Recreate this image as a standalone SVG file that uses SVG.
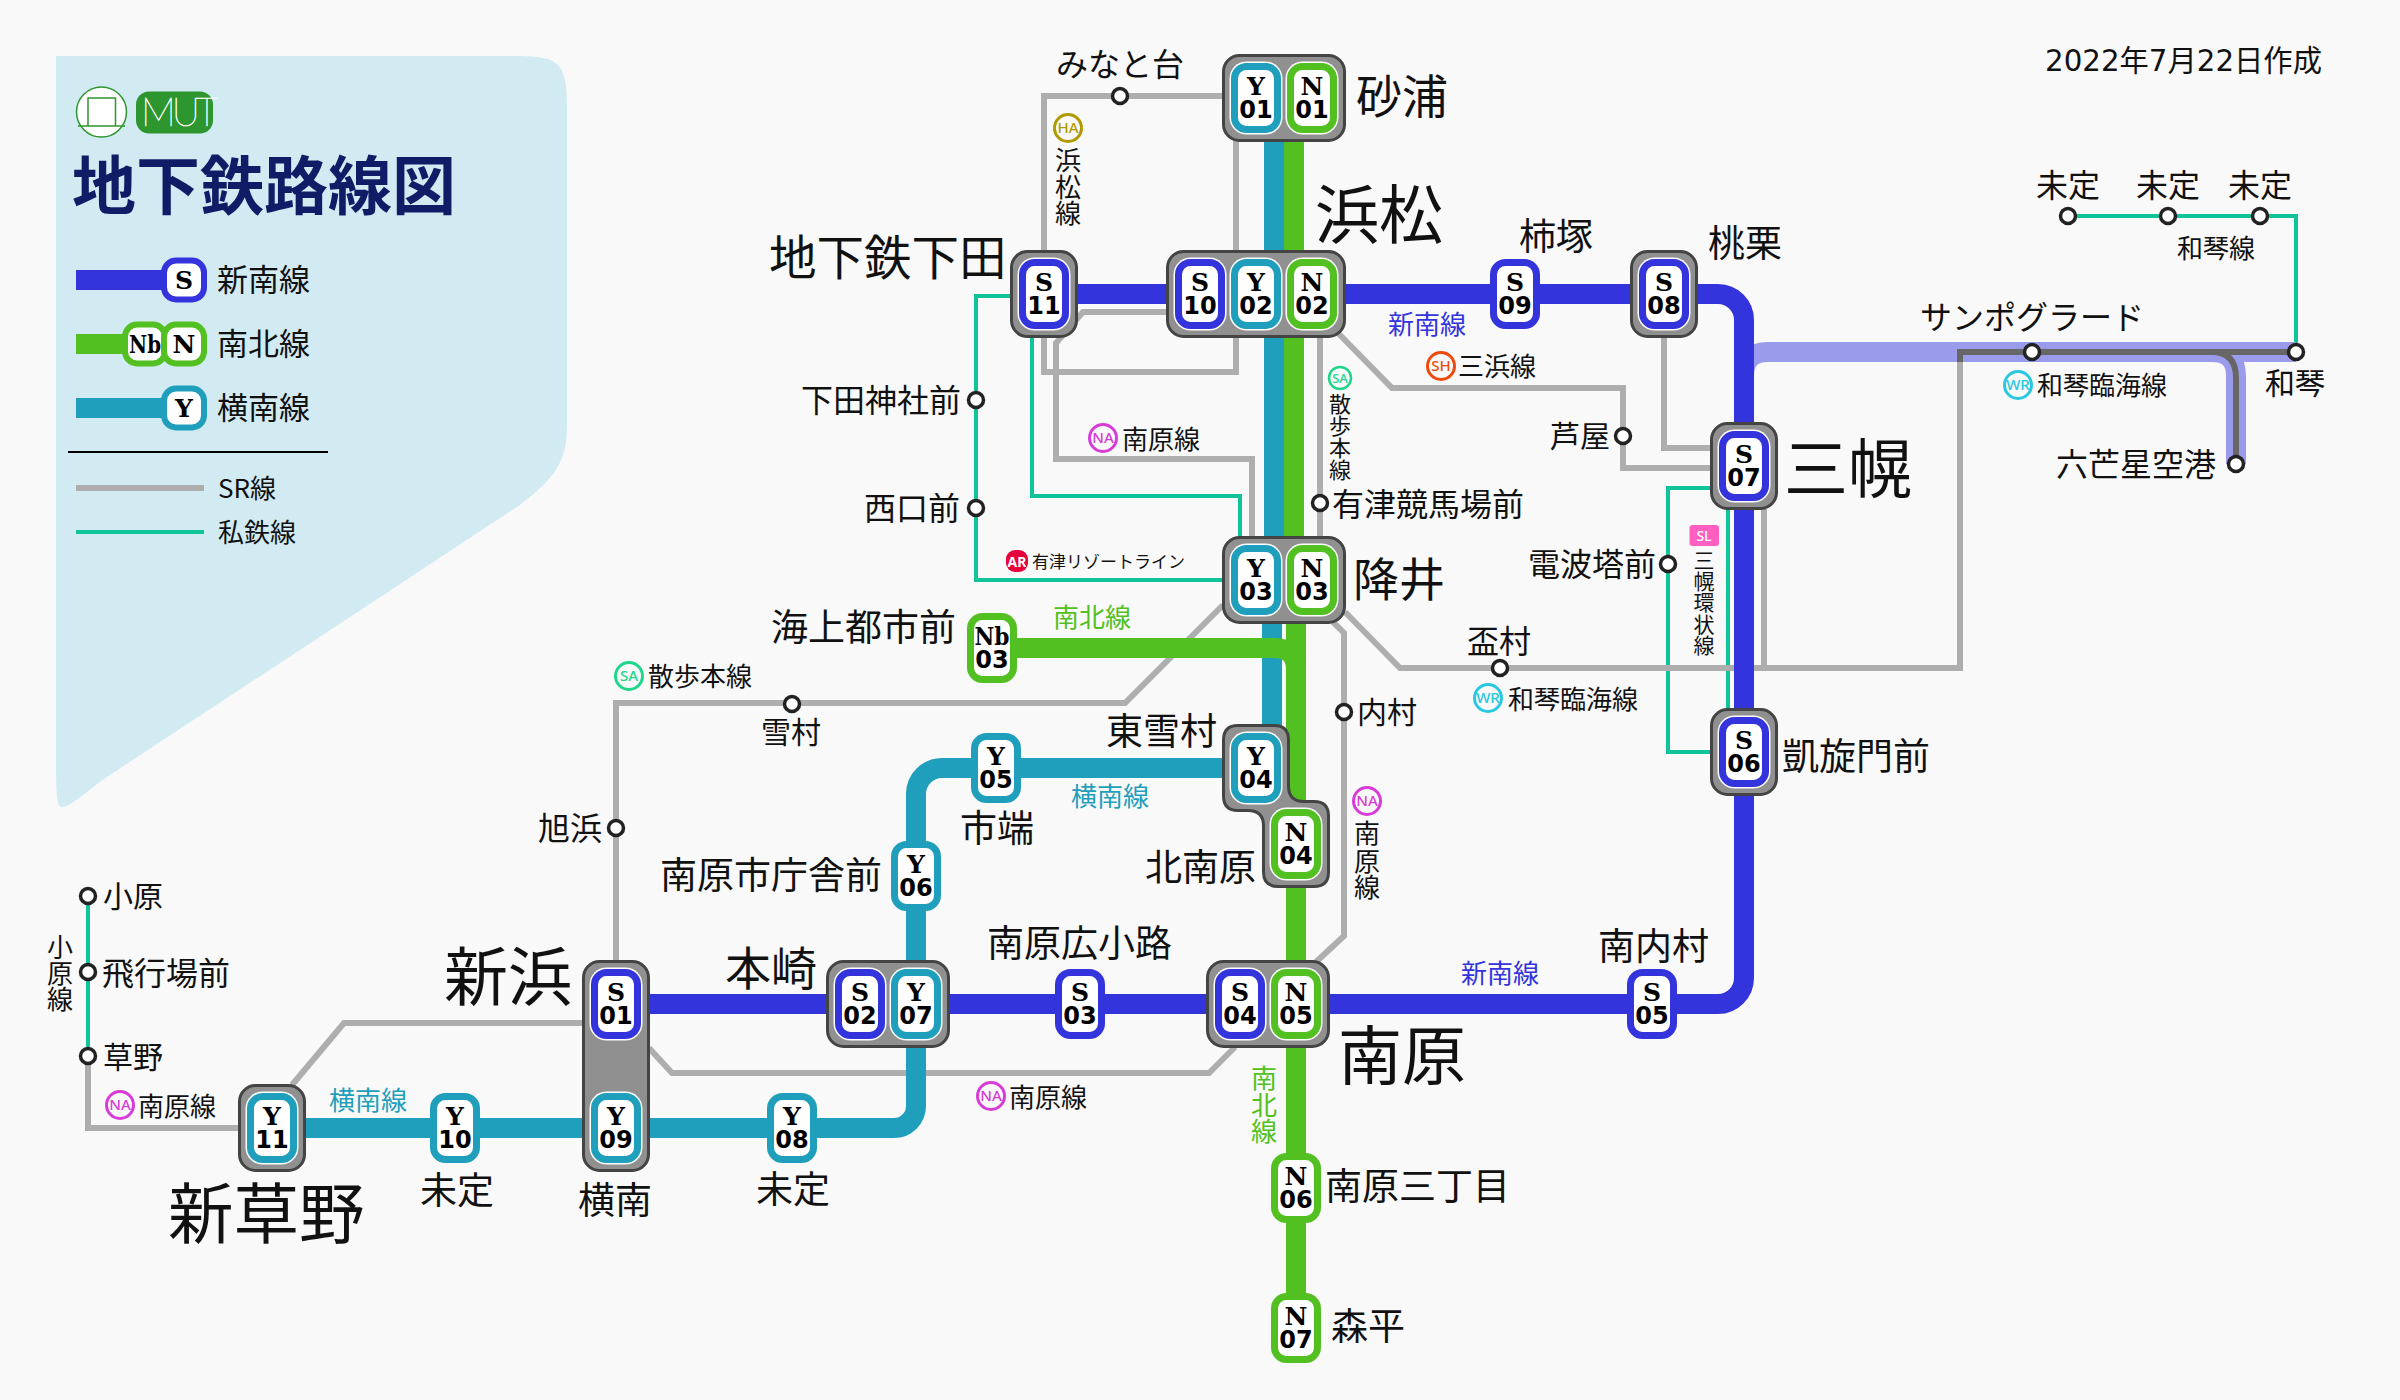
<svg xmlns="http://www.w3.org/2000/svg" width="2400" height="1400" viewBox="0 0 2400 1400">
<style>
text{font-family:"Noto Sans CJK JP","Noto Sans",sans-serif;fill:#111}
.gr{fill:none;stroke:#aeaeae;stroke-width:6;stroke-linejoin:miter}
.pv{fill:none;stroke:#10c49a;stroke-width:4}
.ls{fill:none;stroke:#3434dc;stroke-width:20}
.ln{fill:none;stroke:#52c020;stroke-width:20}
.ly{fill:none;stroke:#1f9fbb;stroke-width:20}
.lp{fill:none;stroke:#9b9bec;stroke-width:20}
.dk{fill:none;stroke:#666;stroke-width:6}
.box{fill:#909090;stroke:#444;stroke-width:3}
.l{font-family:"DejaVu Serif",serif;font-weight:700;font-size:25px;text-anchor:middle;fill:#000}
.d{font-family:"DejaVu Sans",sans-serif;font-weight:700;font-size:24px;text-anchor:middle;fill:#000}
.st{fill:#fff;stroke:#222;stroke-width:3.5}
.t26{font-size:26px}.t30{font-size:30px}.t31{font-size:31px}.t32{font-size:32px}.t36{font-size:37px}.t45{font-size:46px}.t63{font-size:64px}
.mid{text-anchor:middle}
.cs{fill:#3434dc}.cn{fill:#52c020}.cy{fill:#1f9fbb}
.mk{font-family:"Noto Sans",sans-serif;font-weight:500;font-size:15px;text-anchor:middle}
.rg{fill:none;stroke-width:3}
</style>
<defs>
<rect id="halo" x="-26.500" y="-36.500" width="53" height="73" rx="17" fill="#fff"/>
<rect id="bS" x="-21.500" y="-31.500" width="43" height="63" rx="12" fill="#fff" stroke="#3434dc" stroke-width="7"/>
<rect id="bY" x="-21.500" y="-31.500" width="43" height="63" rx="12" fill="#fff" stroke="#1f9fbb" stroke-width="7"/>
<rect id="bN" x="-21.500" y="-31.500" width="43" height="63" rx="12" fill="#fff" stroke="#52c020" stroke-width="7"/>
<rect id="mS" x="-20" y="-19.500" width="40" height="39" rx="12" fill="#fff" stroke="#3434dc" stroke-width="6"/>
<rect id="mN" x="-20" y="-19.500" width="40" height="39" rx="12" fill="#fff" stroke="#52c020" stroke-width="6"/>
<rect id="mY" x="-20" y="-19.500" width="40" height="39" rx="12" fill="#fff" stroke="#1f9fbb" stroke-width="6"/>
</defs>
<rect width="2400" height="1400" fill="#f9f9f9"/>

<g id="legend">
<path d="M56 56H510C555 56 567 58 567 105V425C567 462 555 478 520 505L107 777C85 792 70 808 61 807C56 806 56 780 56 760Z" fill="#d2ebf3"/>
<g id="logo">
<circle cx="101.500" cy="112" r="25" fill="#fff" stroke="#2e962e" stroke-width="1.500"/>
<path d="M78 126H125M88 126V98H115.500V126" fill="none" stroke="#2e962e" stroke-width="1.500"/>
<rect x="136" y="91.500" width="77" height="42" rx="13" fill="#2e962e"/>
<text x="141" y="126" style="font-family:Lato,sans-serif;font-weight:100;font-size:39px;fill:#fff;stroke:#fff;stroke-width:.6px;letter-spacing:-4px">MUT</text>
</g>
<text x="72" y="209" style="font-size:64px;font-weight:700;fill:#0f1c66">地下鉄路線図</text>
<path class="ls" d="M76 280H184"/>
<g transform="translate(184,280)"><use href="#mS"/><text class="l" y="9">S</text></g>
<text class="t31" x="217" y="291">新南線</text>
<path class="ln" d="M76 344H184"/>
<g transform="translate(145,344)"><use href="#mN"/><text class="l" y="9" textLength="32" lengthAdjust="spacingAndGlyphs">Nb</text></g>
<g transform="translate(184,344)"><use href="#mN"/><text class="l" y="9">N</text></g>
<text class="t31" x="217" y="355">南北線</text>
<path class="ly" d="M76 408H184"/>
<g transform="translate(184,408)"><use href="#mY"/><text class="l" y="9">Y</text></g>
<text class="t31" x="217" y="419">横南線</text>
<path d="M68 452H328" stroke="#000" stroke-width="1.800"/>
<path d="M76 488H204" stroke="#aeaeae" stroke-width="6"/>
<text x="218" y="498" style="font-size:26px">SR線</text>
<path d="M76 532H204" stroke="#10c49a" stroke-width="4"/>
<text x="218" y="542" style="font-size:26px">私鉄線</text>
</g>

<g id="connectors">
<path class="pv" d="M1011 296H976V580H1223"/>
<path class="pv" d="M1032 337V496H1240V537"/>
<path class="pv" d="M1711 488H1668V752H1711"/>
<path class="pv" d="M1728 509V709"/>
<path class="pv" d="M88 896V1056"/>
<path class="pv" d="M2068 216H2296V352"/>
<path class="gr" d="M1223 96H1044V251M1044 337V372H1236V337M1236 251V140"/>
<path class="gr" d="M1166 312H1083L1056 343V459H1252V537"/>
<path class="gr" d="M1320 337V537"/>
<path class="gr" d="M1333 622L1344 633V936L1316 962"/>
<path class="gr" d="M1338 333L1392 388H1623V468H1711"/>
<path class="gr" d="M1664 337V448H1711"/>
<path class="gr" d="M1764 509V668"/>
<path class="gr" d="M1345 612L1400 668H1960V352"/>
<path class="gr" d="M1223 605L1125 703H616V961"/>
<path class="gr" d="M649 1048L672 1073H1209L1235 1047"/>
<path class="gr" d="M584 1023H344L292 1085"/>
<path class="gr" d="M88 1056V1128H239"/>
<path class="lp" d="M1744 376Q1744 352 1768 352H2296M2212 352Q2236 352 2236 376V464"/>
<path class="dk" d="M1960 362V352H2296M2212 352Q2236 352 2236 378V464"/>
<path class="ly" d="M1274 97V580M1272 580V768"/>
<path class="ly" d="M1256 768H942A26 26 0 0 0 916 794V1106A22 22 0 0 1 894 1128H272"/>
<path class="ln" d="M1294 97V580M1296 580V1328"/>
<path class="ln" d="M992 648H1274Q1296 648 1296 670"/>
<path class="ls" d="M616 1004H1718A26 26 0 0 0 1744 978V320A26 26 0 0 0 1718 294H1043"/>
</g>

<g id="small-stations">
<circle id="minatodai" class="st" cx="1120" cy="96" r="7.500"/>
<circle id="shimodajinja" class="st" cx="976" cy="400" r="7.500"/>
<circle id="nishiguchi" class="st" cx="976" cy="508" r="7.500"/>
<circle id="keiba" class="st" cx="1320" cy="503" r="7.500"/>
<circle id="ashiya" class="st" cx="1623" cy="436" r="7.500"/>
<circle id="denpa" class="st" cx="1668" cy="564" r="7.500"/>
<circle id="sakazuki" class="st" cx="1500" cy="668" r="7.500"/>
<circle id="uchimura" class="st" cx="1344" cy="712" r="7.500"/>
<circle id="yukimura" class="st" cx="792" cy="704" r="7.500"/>
<circle id="asahihama" class="st" cx="616" cy="828" r="7.500"/>
<circle id="ohara" class="st" cx="88" cy="896" r="7.500"/>
<circle id="hikojo" class="st" cx="88" cy="972" r="7.500"/>
<circle id="kusano" class="st" cx="88" cy="1056" r="7.500"/>
<circle id="w1" class="st" cx="2068" cy="216" r="7.500"/>
<circle id="w2" class="st" cx="2168" cy="216" r="7.500"/>
<circle id="w3" class="st" cx="2260" cy="216" r="7.500"/>
<circle id="sunpo" class="st" cx="2032" cy="352" r="7.500"/>
<circle id="wakoto" class="st" cx="2296" cy="352" r="7.500"/>
<circle id="rokubo" class="st" cx="2236" cy="464" r="7.500"/>
</g>

<g id="st-Y01-N01"><rect class="box" x="1223.500" y="55.500" width="121" height="85" rx="16"/>
<g transform="translate(1256,98)"><use href="#halo"/><use href="#bY"/><text class="l" y="-3">Y</text><text class="d" y="20">01</text></g>
<g transform="translate(1312,98)"><use href="#halo"/><use href="#bN"/><text class="l" y="-3">N</text><text class="d" y="20">01</text></g></g>
<g id="st-S10-Y02-N02"><rect class="box" x="1167.500" y="251.500" width="177" height="85" rx="16"/>
<g transform="translate(1200,294)"><use href="#halo"/><use href="#bS"/><text class="l" y="-3">S</text><text class="d" y="20">10</text></g>
<g transform="translate(1256,294)"><use href="#halo"/><use href="#bY"/><text class="l" y="-3">Y</text><text class="d" y="20">02</text></g>
<g transform="translate(1312,294)"><use href="#halo"/><use href="#bN"/><text class="l" y="-3">N</text><text class="d" y="20">02</text></g></g>
<g id="st-S11"><rect class="box" x="1011.500" y="251.500" width="65" height="85" rx="16"/>
<g transform="translate(1044,294)"><use href="#halo"/><use href="#bS"/><text class="l" y="-3">S</text><text class="d" y="20">11</text></g></g>
<g id="st-Y03-N03"><rect class="box" x="1223.500" y="537.500" width="121" height="85" rx="16"/>
<g transform="translate(1256,580)"><use href="#halo"/><use href="#bY"/><text class="l" y="-3">Y</text><text class="d" y="20">03</text></g>
<g transform="translate(1312,580)"><use href="#halo"/><use href="#bN"/><text class="l" y="-3">N</text><text class="d" y="20">03</text></g></g>
<g id="st-Y04-N04"><path class="box" d="M1238 725.500H1274Q1288.500 725.500 1288.500 740V786Q1288.500 801.500 1304 801.500H1314Q1328.500 801.500 1328.500 816V872Q1328.500 886.500 1314 886.500H1278Q1263.500 886.500 1263.500 872V826Q1263.500 810.500 1248 810.500H1238Q1223.500 810.500 1223.500 796V740Q1223.500 725.500 1238 725.500Z"/>
<g transform="translate(1256,768)"><use href="#halo"/><use href="#bY"/><text class="l" y="-3">Y</text><text class="d" y="20">04</text></g>
<g transform="translate(1296,844)"><use href="#halo"/><use href="#bN"/><text class="l" y="-3">N</text><text class="d" y="20">04</text></g></g>
<g id="st-S09" transform="translate(1515,294)"><use href="#bS"/><text class="l" y="-3">S</text><text class="d" y="20">09</text></g>
<g id="st-S08"><rect class="box" x="1631.500" y="251.500" width="65" height="85" rx="16"/>
<g transform="translate(1664,294)"><use href="#halo"/><use href="#bS"/><text class="l" y="-3">S</text><text class="d" y="20">08</text></g></g>
<g id="st-S07"><rect class="box" x="1711.500" y="423.500" width="65" height="85" rx="16"/>
<g transform="translate(1744,466)"><use href="#halo"/><use href="#bS"/><text class="l" y="-3">S</text><text class="d" y="20">07</text></g></g>
<g id="st-S06"><rect class="box" x="1711.500" y="709.500" width="65" height="85" rx="16"/>
<g transform="translate(1744,752)"><use href="#halo"/><use href="#bS"/><text class="l" y="-3">S</text><text class="d" y="20">06</text></g></g>
<g id="st-S05" transform="translate(1652,1004)"><use href="#bS"/><text class="l" y="-3">S</text><text class="d" y="20">05</text></g>
<g id="st-S04-N05"><rect class="box" x="1207.500" y="961.500" width="121" height="85" rx="16"/>
<g transform="translate(1240,1004)"><use href="#halo"/><use href="#bS"/><text class="l" y="-3">S</text><text class="d" y="20">04</text></g>
<g transform="translate(1296,1004)"><use href="#halo"/><use href="#bN"/><text class="l" y="-3">N</text><text class="d" y="20">05</text></g></g>
<g id="st-S03" transform="translate(1080,1004)"><use href="#bS"/><text class="l" y="-3">S</text><text class="d" y="20">03</text></g>
<g id="st-S02-Y07"><rect class="box" x="827.500" y="961.500" width="121" height="85" rx="16"/>
<g transform="translate(860,1004)"><use href="#halo"/><use href="#bS"/><text class="l" y="-3">S</text><text class="d" y="20">02</text></g>
<g transform="translate(916,1004)"><use href="#halo"/><use href="#bY"/><text class="l" y="-3">Y</text><text class="d" y="20">07</text></g></g>
<g id="st-S01-Y09"><rect class="box" x="583.500" y="961.500" width="65" height="209" rx="16"/>
<g transform="translate(616,1004)"><use href="#halo"/><use href="#bS"/><text class="l" y="-3">S</text><text class="d" y="20">01</text></g>
<g transform="translate(616,1128)"><use href="#halo"/><use href="#bY"/><text class="l" y="-3">Y</text><text class="d" y="20">09</text></g></g>
<g id="st-Y05" transform="translate(996,768)"><use href="#bY"/><text class="l" y="-3">Y</text><text class="d" y="20">05</text></g>
<g id="st-Y06" transform="translate(916,876)"><use href="#bY"/><text class="l" y="-3">Y</text><text class="d" y="20">06</text></g>
<g id="st-Y08" transform="translate(792,1128)"><use href="#bY"/><text class="l" y="-3">Y</text><text class="d" y="20">08</text></g>
<g id="st-Y10" transform="translate(455,1128)"><use href="#bY"/><text class="l" y="-3">Y</text><text class="d" y="20">10</text></g>
<g id="st-Y11"><rect class="box" x="239.500" y="1085.500" width="65" height="85" rx="16"/>
<g transform="translate(272,1128)"><use href="#halo"/><use href="#bY"/><text class="l" y="-3">Y</text><text class="d" y="20">11</text></g></g>
<g id="st-N06" transform="translate(1296,1188)"><use href="#bN"/><text class="l" y="-3">N</text><text class="d" y="20">06</text></g>
<g id="st-N07" transform="translate(1296,1328)"><use href="#bN"/><text class="l" y="-3">N</text><text class="d" y="20">07</text></g>
<g id="st-Nb03" transform="translate(992,648)"><use href="#bN"/><text class="l" y="-3" textLength="35" lengthAdjust="spacingAndGlyphs">Nb</text><text class="d" y="20">03</text></g>

<g id="labels">
<text x="2045" y="71" style="font-family:'DejaVu Sans','Noto Sans CJK JP',sans-serif;font-size:29.300px">2022年7月22日作成</text>
<text class="t32" x="1056" y="76">みなと台</text>
<text class="t45" x="1356" y="113">砂浦</text>
<text class="t63" x="1315" y="238">浜松</text>
<text x="769" y="275" style="font-size:47.500px">地下鉄下田</text>
<text class="t36" x="1519" y="250">柿塚</text>
<text class="t36" x="1708" y="257">桃栗</text>
<text class="t26 cs" x="1388" y="334">新南線</text>
<text class="t26" x="1458" y="376">三浜線</text>
<text class="t26 mid" x="1068"><tspan x="1068" y="170">浜</tspan><tspan x="1068" y="197">松</tspan><tspan x="1068" y="223">線</tspan></text>
<text class="mid" x="1340" style="font-size:22px"><tspan x="1340" y="412">散</tspan><tspan x="1340" y="434">歩</tspan><tspan x="1340" y="456">本</tspan><tspan x="1340" y="478">線</tspan></text>
<text class="t26" x="1122" y="449">南原線</text>
<text class="t32" x="1332" y="516">有津競馬場前</text>
<text class="t32" x="801" y="412">下田神社前</text>
<text class="t32" x="864" y="520">西口前</text>
<text x="1032" y="568" style="font-size:17px">有津リゾートライン</text>
<text class="t45" x="1353" y="596">降井</text>
<text class="t26 cn" x="1053" y="627">南北線</text>
<text class="t36" x="1106" y="745">東雪村</text>
<text class="t26 cy" x="1071" y="806">横南線</text>
<text class="t30" x="1357" y="723">内村</text>
<text class="t36" x="1145" y="881">北南原</text>
<text class="t26 mid" x="1367"><tspan x="1367" y="843">南</tspan><tspan x="1367" y="871">原</tspan><tspan x="1367" y="897">線</tspan></text>
<text class="t32" x="1467" y="653">盃村</text>
<text class="t26" x="1508" y="709">和琴臨海線</text>
<text class="t26" x="2037" y="395">和琴臨海線</text>
<text class="t32" x="1920" y="329">サンポグラード</text>
<text class="t26" x="2177" y="258">和琴線</text>
<text class="t32 mid" x="2068" y="197">未定</text>
<text class="t32 mid" x="2168" y="197">未定</text>
<text class="t32 mid" x="2260" y="197">未定</text>
<text class="t30" x="2265" y="394">和琴</text>
<text class="t32" x="2056" y="476">六芒星空港</text>
<text class="t63" x="1784" y="492">三幌</text>
<text class="t30" x="1550" y="447">芦屋</text>
<text class="t32" x="1528" y="576">電波塔前</text>
<text class="mid" style="font-size:21px"><tspan x="1704" y="568">三</tspan><tspan x="1704" y="589">幌</tspan><tspan x="1704" y="610">環</tspan><tspan x="1704" y="632">状</tspan><tspan x="1704" y="653">線</tspan></text>
<text class="t36" x="1782" y="770">凱旋門前</text>
<text class="t36" x="771" y="641">海上都市前</text>
<text class="t26" x="648" y="686">散歩本線</text>
<text class="t30" x="761" y="743">雪村</text>
<text class="t32" x="538" y="840">旭浜</text>
<text class="t36" x="960" y="842">市端</text>
<text class="t36" x="660" y="889">南原市庁舎前</text>
<text class="t45" x="725" y="985">本崎</text>
<text class="t36" x="987" y="957">南原広小路</text>
<text class="t63" x="444" y="1000">新浜</text>
<text class="t26 cs" x="1461" y="983">新南線</text>
<text class="t36" x="1598" y="960">南内村</text>
<text class="t63" x="1338" y="1079">南原</text>
<text class="t26" x="1009" y="1107">南原線</text>
<text class="t26 mid cn" x="1264"><tspan x="1264" y="1088">南</tspan><tspan x="1264" y="1115">北</tspan><tspan x="1264" y="1141">線</tspan></text>
<text class="t36" x="1325" y="1200">南原三丁目</text>
<text class="t36" x="1331" y="1340">森平</text>
<text class="t36" x="756" y="1203">未定</text>
<text class="t36" x="420" y="1204">未定</text>
<text class="t36" x="578" y="1214">横南</text>
<text x="168" y="1238" style="font-size:65.500px">新草野</text>
<text class="t26 cy" x="329" y="1110">横南線</text>
<text class="t26" x="138" y="1116">南原線</text>
<text class="t30" x="103" y="907">小原</text>
<text class="t32" x="102" y="985">飛行場前</text>
<text class="t30" x="103" y="1068">草野</text>
<text class="t26 mid" x="60"><tspan x="60" y="957">小</tspan><tspan x="60" y="983">原</tspan><tspan x="60" y="1009">線</tspan></text>
</g>

<g id="line-marks">
<g transform="translate(1068,128)"><circle class="rg" r="13.500" stroke="#b09a00"/><text class="mk" y="5" style="fill:#b09a00">HA</text></g>
<g transform="translate(1441,366)"><circle class="rg" r="13.500" stroke="#f04a0a"/><text class="mk" y="5" style="fill:#f04a0a">SH</text></g>
<g transform="translate(1340,378)"><circle class="rg" r="11" stroke="#1fd68a" style="stroke-width:2.500"/><text class="mk" y="4.500" style="fill:#1fd68a;font-size:13px">SA</text></g>
<g transform="translate(1103,438)"><circle class="rg" r="13.500" stroke="#d83cd8"/><text class="mk" y="5" style="fill:#d83cd8">NA</text></g>
<g transform="translate(1367,801)"><circle class="rg" r="13.500" stroke="#d83cd8"/><text class="mk" y="5" style="fill:#d83cd8">NA</text></g>
<g transform="translate(991,1096)"><circle class="rg" r="13.500" stroke="#d83cd8"/><text class="mk" y="5" style="fill:#d83cd8">NA</text></g>
<g transform="translate(120,1105)"><circle class="rg" r="13.500" stroke="#d83cd8"/><text class="mk" y="5" style="fill:#d83cd8">NA</text></g>
<g transform="translate(1488,698)"><circle class="rg" r="13.500" stroke="#28c8e0"/><text class="mk" y="5" style="fill:#28c8e0">WR</text></g>
<g transform="translate(2018,385)"><circle class="rg" r="13.500" stroke="#28c8e0"/><text class="mk" y="5" style="fill:#28c8e0">WR</text></g>
<g transform="translate(629,676)"><circle class="rg" r="13.500" stroke="#1fd68a"/><text class="mk" y="5" style="fill:#1fd68a">SA</text></g>
<rect x="1006" y="550" width="22" height="22" rx="9" fill="#e6003c"/><text class="mk" x="1017" y="566.500" style="fill:#fff;font-size:14px;font-weight:700">AR</text>
<rect x="1689.500" y="525" width="29.500" height="21" rx="3" fill="#ff5fc0"/><text class="mk" x="1704" y="540.500" style="fill:#fff;font-size:14px">SL</text>
</g>
</svg>
